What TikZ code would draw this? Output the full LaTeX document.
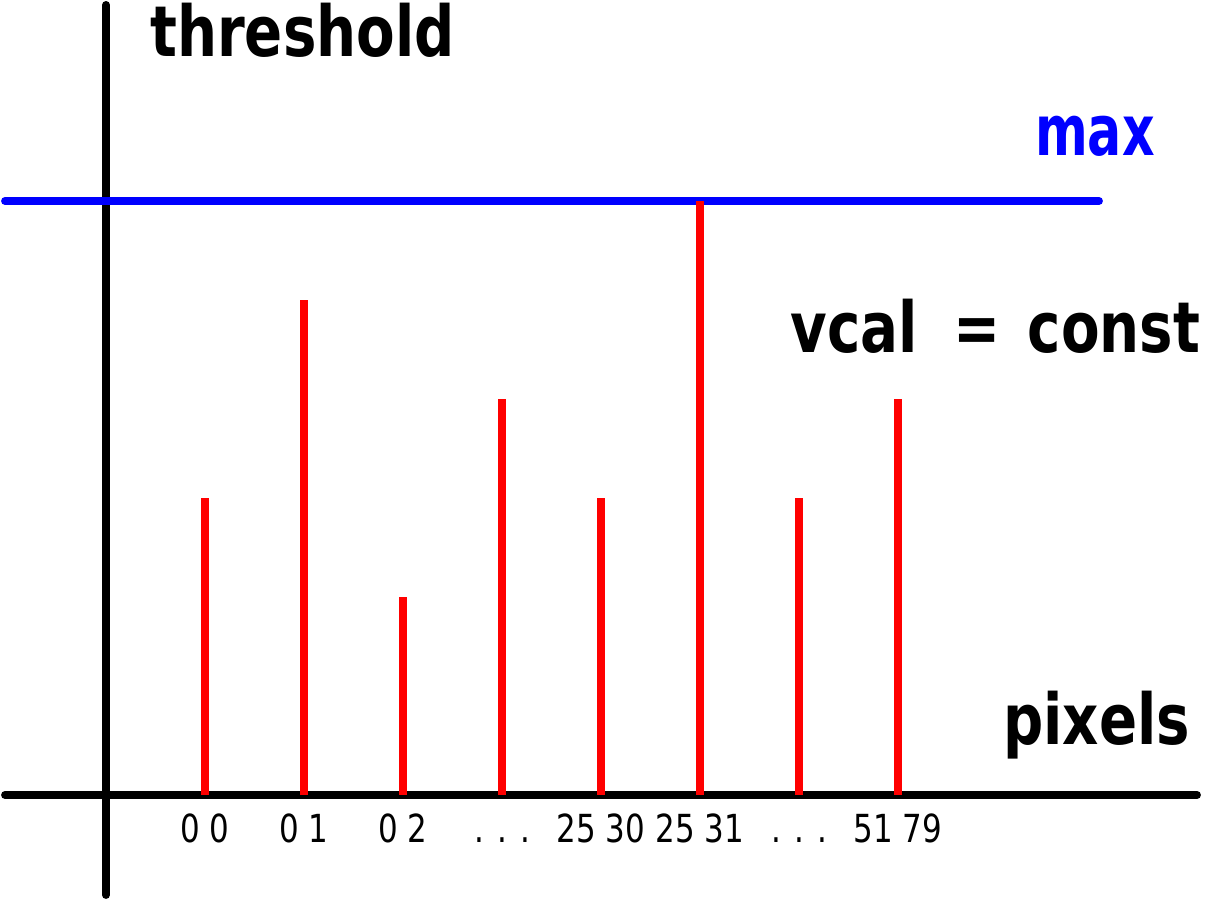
\documentclass[tikz,border=0pt]{standalone}
\usepackage{fontspec}
\setmainfont{DejaVu Sans}
\usetikzlibrary{positioning}

\tikzset{
  axis/.style={line width=4.5pt, line cap=round},
  maxline/.style={line width=4.5pt, line cap=round, blue},
  bar/.style={line width=4.5pt, red},
  big/.style={inner sep=0pt, font=\fontsize{40}{48}\selectfont\bfseries, xscale=0.8},
  pix/.style={inner sep=0pt, font=\fontsize{22}{26}\selectfont, xscale=0.8, anchor=base}
}

\begin{document}
\begin{tikzpicture}[x=1.98cm, y=1.98cm]
            \useasboundingbox (-1.0707,-1.0606) rectangle (11.1212,8.0303);
            \coordinate (ybot) at (0,-1.01);
            \coordinate (ytop) at (0,7.98);
            \coordinate (xl) at (-1.02,0);
            \coordinate (xr) at (11.02,0);
            \coordinate (ml) at (-1.02,6);
            \coordinate (mr) at (10.03,6);
            \draw[axis] (ybot) -- (ytop);
            \draw[axis] (xl) -- (xr);
            \draw[maxline] (ml) -- (mr);
            \foreach \i/\h/\t in {1/3/0 0, 2/5/0 1, 3/2/0 2, 4/4/. . ., 5/3/25 30, 6/6/25 31, 7/3/. . ., 8/4/51 79}{
                \coordinate (b\i) at (\i,0);
                \coordinate (t\i) at (\i,\h);
                \draw[bar] (b\i) -- (t\i);
                \node[pix] (l\i) at (\i,-0.475) {\t};
            }
            \node[big, anchor=base west] (thr) at (0.444,7.455) {threshold};
            \node[big, anchor=base, blue, xscale=0.9] (mx) at (9.99,6.455) {max};
            \node[big, anchor=base west] (vc) at (6.91,4.465) {vcal\hspace{0.9cm}=\hspace{0.68cm}const};
            \node[big, anchor=base west] (px) at (9.06,0.505) {pixels};
        \end{tikzpicture}
\end{document}
